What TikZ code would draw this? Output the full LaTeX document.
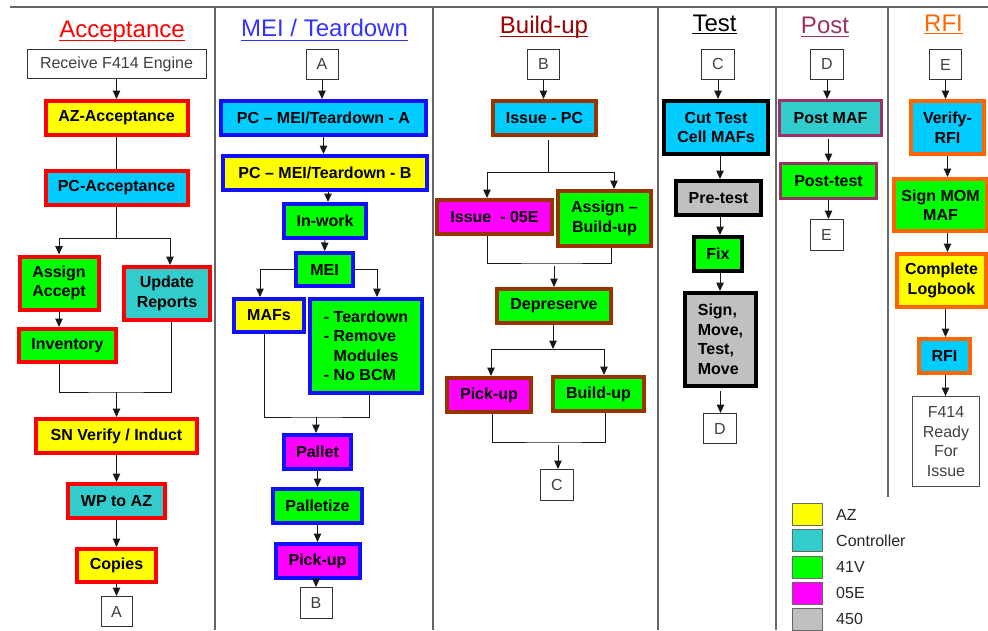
\documentclass[tikz,border=0pt]{standalone}
\usepackage{fontspec}
\setmainfont{Liberation Sans}
\usetikzlibrary{arrows.meta}

\definecolor{azY}{HTML}{FFFF00}
\definecolor{ctrlC}{HTML}{33CCCC}
\definecolor{pcC}{HTML}{00CCFF}
\definecolor{vG}{HTML}{00FF00}
\definecolor{eM}{HTML}{FF00FF}
\definecolor{gry}{HTML}{C0C0C0}
\definecolor{brn}{HTML}{993300}
\definecolor{plum}{HTML}{993366}
\definecolor{orng}{HTML}{FF6600}
\definecolor{mblue}{HTML}{1010FF}
\definecolor{tblue}{HTML}{3333FF}
\definecolor{dred}{HTML}{990000}
\definecolor{framegray}{HTML}{666666}

\begin{document}
\begin{tikzpicture}[x=1pt, y=-1pt, >={Triangle[length=8.5pt,width=7.5pt]}]
    \tikzstyle{task} = [rectangle, draw, line width=4pt, outer sep=2pt, inner sep=0pt, align=center, font=\fontsize{16}{19.5}\selectfont\bfseries]
    \tikzstyle{offpage} = [rectangle, draw=black!80, line width=1pt, fill=white, inner sep=0pt, text=black!75, font=\fontsize{16}{19.5}\selectfont]
    \tikzstyle{lanetitle} = [inner sep=0pt, anchor=base, font=\fontsize{24}{28}\selectfont]
    \tikzstyle{flow} = [->, line width=1pt, draw=black!90]
    \tikzstyle{wire} = [line width=1pt, draw=black!90]
    \tikzstyle{swatch} = [rectangle, draw=black!60, line width=1pt, minimum width=30, minimum height=22, inner sep=0pt]
    \tikzstyle{legtext} = [anchor=west, inner sep=0pt, text=black!85, font=\fontsize{16}{19}\selectfont]

    \useasboundingbox (0,0) rectangle (988,630);

    \draw[framegray, line width=1.5pt] (10,7) -- (988,7);
    \foreach \xx in {215,433,658,776}
        \draw[framegray, line width=1.5pt] (\xx,7) -- (\xx,630);
    \draw[framegray, line width=1.5pt] (888,7) -- (888,497);

    \node[lanetitle, text=red] (hdacc) at (122,37) {Acceptance};
    \node[lanetitle, text=tblue] (hdmei) at (324.5,36.5) {MEI / Teardown};
    \node[lanetitle, text=dred] (hdbld) at (544,33) {Build-up};
    \node[lanetitle, text=black] (hdtest) at (714.5,31.5) {Test};
    \node[lanetitle, text=plum] (hdpost) at (825,33) {Post};
    \node[lanetitle, text=orng] (hdrfi) at (943.5,31.5) {RFI};
    \draw[red, line width=1pt] ([yshift=-3.5pt]hdacc.base west) -- ([yshift=-3.5pt]hdacc.base east);
    \draw[tblue, line width=1pt] ([yshift=-3.5pt]hdmei.base west) -- ([yshift=-3.5pt]hdmei.base east);
    \draw[dred, line width=1pt] ([yshift=-3.5pt]hdbld.base west) -- ([yshift=-3.5pt]hdbld.base east);
    \draw[black, line width=1pt] ([yshift=-2pt]hdtest.base west) -- ([yshift=-2pt]hdtest.base east);
    \draw[plum, line width=1pt] ([yshift=-3pt]hdpost.base west) -- ([yshift=-3pt]hdpost.base east);
    \draw[orng, line width=1pt] ([yshift=-2pt]hdrfi.base west) -- ([yshift=-2pt]hdrfi.base east);

    \node[offpage, minimum width=179, minimum height=29] (recv) at (116.5,64) {Receive F414 Engine};
    \node[task, fill=azY, draw=red, minimum width=142, minimum height=34] (azacc) at (116.5,118) {AZ-Acceptance};
    \node[task, fill=pcC, draw=red, minimum width=142, minimum height=34] (pcacc) at (116.5,187.5) {PC-Acceptance};
    \node[task, fill=vG, draw=red, minimum width=79, minimum height=53] (asgacc) at (59,283) {Assign\\Accept};
    \node[task, fill=ctrlC, draw=red, minimum width=86, minimum height=53] (updrep) at (167,293.5) {Update\\Reports};
    \node[task, fill=vG, draw=red, minimum width=97, minimum height=33] (inv) at (67.5,345.5) {Inventory};
    \node[task, fill=azY, draw=red, minimum width=161, minimum height=34] (snver) at (116.5,436) {SN Verify / Induct};
    \node[task, fill=ctrlC, draw=red, minimum width=97, minimum height=34] (wpaz) at (116.5,501) {WP to AZ};
    \node[task, fill=azY, draw=red, minimum width=79, minimum height=33] (copies) at (116.5,565.5) {Copies};
    \node[offpage, minimum width=31, minimum height=30] (outA) at (116.5,611.5) {A};

    \coordinate (fork1) at (116.5,238);
    \coordinate (join1) at (116.5,392);
    \draw[flow] (recv) -- (azacc);
    \draw[wire] (azacc) -- (pcacc);
    \draw[wire] (pcacc) -- (fork1);
    \draw[flow] (fork1) -| (asgacc);
    \draw[flow] (fork1) -| ([xshift=3pt]updrep.north);
    \draw[flow] (asgacc.south) -- (asgacc.south |- inv.north);
    \draw[wire] (asgacc.south |- inv.south) |- (join1) -| ([xshift=4pt]updrep.south);
    \draw[flow] (join1) -- (snver);
    \draw[flow] (snver) -- (wpaz);
    \draw[flow] (wpaz) -- (copies);
    \draw[flow] (copies) -- (outA);

    \node[offpage, minimum width=32, minimum height=30] (inA) at (322,64) {A};
    \node[task, fill=pcC, draw=mblue, minimum width=205, minimum height=34] (pcmeia) at (323.5,118) {PC – MEI/Teardown - A};
    \node[task, fill=azY, draw=mblue, minimum width=204, minimum height=34] (pcmeib) at (325,173) {PC – MEI/Teardown - B};
    \node[task, fill=vG, draw=mblue, minimum width=82, minimum height=34] (inwork) at (325,221) {In-work};
    \node[task, fill=vG, draw=mblue, minimum width=57, minimum height=33] (mei) at (324.5,269.5) {MEI};
    \node[task, fill=azY, draw=mblue, minimum width=70, minimum height=33] (mafs) at (269,315.5) {MAFs};
    \node[task, fill=vG, draw=mblue, minimum width=112, minimum height=94, align=left] (tdown) at (366,346) {- Teardown\\- Remove\\\phantom{- }Modules\\- No BCM};
    \node[task, fill=eM, draw=mblue, minimum width=67, minimum height=34] (pallet) at (317.5,452) {Pallet};
    \node[task, fill=vG, draw=mblue, minimum width=89, minimum height=34] (pltz) at (317.5,506) {Palletize};
    \node[task, fill=eM, draw=mblue, minimum width=84, minimum height=34] (pick1) at (317.5,561) {Pick-up};
    \node[offpage, minimum width=32, minimum height=31] (outB) at (316,603) {B};

    \coordinate (join2) at (316,417);
    \draw[flow] (inA) -- (inA |- pcmeia.north);
    \draw[flow] (pcmeia.south) -- (pcmeia.south |- pcmeib.north);
    \draw[flow] ([xshift=3pt]pcmeib.south) -- ([xshift=3pt]pcmeib.south |- inwork.north);
    \draw[flow] (inwork) -- (mei);
    \draw[flow] (mei.west) -| ([xshift=-9pt]mafs.north);
    \draw[flow] (mei.east) -| ([xshift=11pt]tdown.north);
    \draw[wire] ([xshift=-5pt]mafs.south) |- (join2) -| ([xshift=3pt]tdown.south);
    \draw[flow] (join2) -- (join2 |- pallet.north);
    \draw[flow] (pallet) -- (pltz);
    \draw[flow] (pltz) -- (pick1);
    \draw[flow] (outB |- pick1.south) -- (outB);

    \node[offpage, minimum width=32, minimum height=30] (inB) at (543.5,64) {B};
    \node[task, fill=pcC, draw=brn, minimum width=103, minimum height=34] (isspc) at (544.5,118) {Issue - PC};
    \node[task, fill=eM, draw=brn, minimum width=115, minimum height=34] (iss05e) at (494.5,217) {Issue\ \ - 05E};
    \node[task, fill=vG, draw=brn, minimum width=93, minimum height=55] (asgbu) at (604.5,218.5) {Assign –\\Build-up};
    \node[task, fill=vG, draw=brn, minimum width=114, minimum height=34] (depres) at (554,306) {Depreserve};
    \node[task, fill=eM, draw=brn, minimum width=84, minimum height=34] (pick2) at (489,395) {Pick-up};
    \node[task, fill=vG, draw=brn, minimum width=91, minimum height=34] (bldup) at (598.5,394) {Build-up};
    \node[offpage, minimum width=33, minimum height=31] (outC) at (557,485) {C};

    \coordinate (fork3) at (548,172);
    \coordinate (join3) at (554,263);
    \coordinate (fork4) at (553,349);
    \coordinate (join4) at (558,442);
    \draw[flow] (inB) -- (inB |- isspc.north);
    \draw[wire, shorten <=3pt] (fork3 |- isspc.south) -- (fork3);
    \draw[flow] (fork3) -| ([xshift=-7.5pt]iss05e.north);
    \draw[flow] (fork3) -| ([xshift=9.5pt]asgbu.north);
    \draw[wire] ([xshift=-7.5pt]iss05e.south) |- (join3) -| ([xshift=6.5pt]asgbu.south);
    \draw[flow, shorten <=3pt] (join3) -- (join3 |- depres.north);
    \draw[flow] (depres.south -| fork4) -- (fork4);
    \draw[flow] (fork4) -| ([xshift=2pt]pick2.north);
    \draw[flow] (fork4) -| ([xshift=5.5pt]bldup.north);
    \draw[wire] ([xshift=3pt]pick2.south) |- (join4) -| ([xshift=6.5pt]bldup.south);
    \draw[flow, shorten <=3pt] (join4) -- (join4 |- outC.north);

    \node[offpage, minimum width=33, minimum height=30] (inC) at (718,64) {C};
    \node[task, fill=pcC, draw=black, minimum width=104, minimum height=53] (cutmaf) at (716,127.5) {Cut Test\\Cell MAFs};
    \node[task, fill=gry, draw=black, minimum width=85, minimum height=34] (pretest) at (718.5,198) {Pre-test};
    \node[task, fill=vG, draw=black, minimum width=48, minimum height=34] (fix) at (718,254) {Fix};
    \node[task, fill=gry, draw=black, minimum width=71, minimum height=93, align=left] (smtm) at (720.5,339.5) {Sign,\\Move,\\Test,\\Move};
    \node[offpage, minimum width=33, minimum height=30] (outD) at (720,428.5) {D};

    \draw[flow] (inC) -- (inC |- cutmaf.north);
    \draw[flow] ([xshift=4pt]cutmaf.south) -- ([xshift=4pt]cutmaf.south |- pretest.north);
    \draw[flow] ([xshift=1.5pt]pretest.south) -- ([xshift=1.5pt]pretest.south |- fix.north);
    \draw[flow] ([xshift=2pt]fix.south) -- ([xshift=2pt]fix.south |- smtm.north);
    \draw[flow, shorten <=3pt] (smtm.south) -- (smtm.south |- outD.north);

    \node[offpage, minimum width=33, minimum height=30] (inD) at (827,64) {D};
    \node[task, fill=ctrlC, draw=plum, line width=3pt, outer sep=1.5pt, minimum width=102, minimum height=35] (postmaf) at (830.5,118) {Post MAF};
    \node[task, fill=vG, draw=plum, line width=3pt, outer sep=1.5pt, minimum width=96, minimum height=35] (posttest) at (828.5,181) {Post-test};
    \node[offpage, minimum width=33, minimum height=31] (outE) at (826.5,235) {E};

    \draw[flow] (inD) -- (inD |- postmaf.north);
    \draw[flow, shorten <=2pt] (postmaf.south -| posttest) -- (posttest);
    \draw[flow] (posttest) -- (posttest |- outE.north);

    \node[offpage, minimum width=32, minimum height=30] (inE) at (945.5,64.5) {E};
    \node[task, fill=pcC, draw=orng, minimum width=73, minimum height=53] (verrfi) at (947.5,127.5) {Verify-\\RFI};
    \node[task, fill=vG, draw=orng, minimum width=93, minimum height=52] (signmom) at (940.5,205) {Sign MOM\\MAF};
    \node[task, fill=azY, draw=orng, minimum width=89, minimum height=53] (logbk) at (941.5,280.5) {Complete\\Logbook};
    \node[task, fill=pcC, draw=orng, minimum width=51, minimum height=34] (rfi) at (944.5,356) {RFI};
    \node[offpage, draw=black!70, minimum width=67, minimum height=90, align=center] (ready) at (946,441.5) {F414\\Ready\\For\\Issue};

    \draw[flow] (inE) -- (inE |- verrfi.north);
    \draw[flow] (verrfi) -- (verrfi |- signmom.north);
    \draw[flow] (verrfi.south |- signmom.south) -- (verrfi.south |- logbk.north);
    \draw[flow] (inE |- logbk.south) -- (inE |- rfi.north);
    \draw[flow] (inE |- rfi.south) -- (inE |- ready.north);

    \node[swatch, fill=azY] (keyaz) at (807.5,514.5) {};
    \node[swatch, fill=ctrlC] (keyctl) at (807.5,540.5) {};
    \node[swatch, fill=vG] (key41) at (807.5,567) {};
    \node[swatch, fill=eM] (key05) at (807.5,593) {};
    \node[swatch, fill=gry] (key450) at (807.5,619) {};
    \node[legtext] (labaz) at (836,514.5) {AZ};
    \node[legtext] (labctl) at (836,540.5) {Controller};
    \node[legtext] (lab41) at (836,567) {41V};
    \node[legtext] (lab05) at (836,593) {05E};
    \node[legtext] (lab450) at (836,619) {450};
\end{tikzpicture}
\end{document}
